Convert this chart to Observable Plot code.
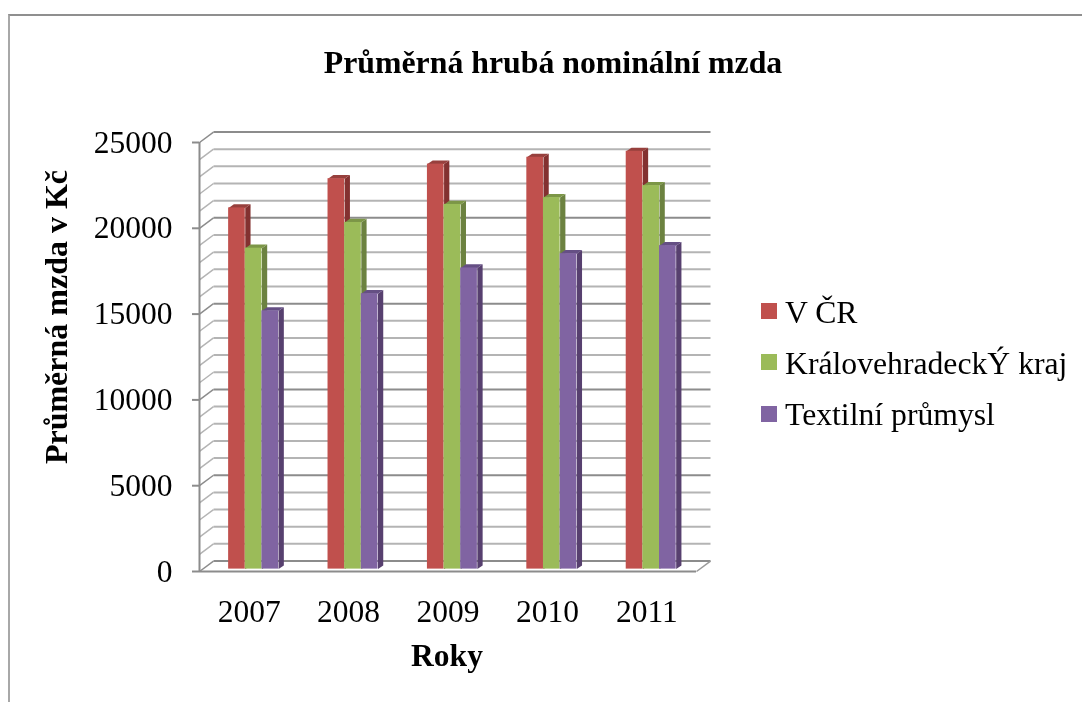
<!DOCTYPE html>
<html lang="cs">
<head>
<meta charset="utf-8">
<script src="https://cdn.jsdelivr.net/npm/d3@7"></script>
<script src="https://cdn.jsdelivr.net/npm/@observablehq/plot@0.6"></script>
<style>
html,body{margin:0;padding:0;background:#fff;}
body{width:1082px;height:702px;position:relative;overflow:hidden;font-family:"Liberation Serif",serif;color:#000;}
#frame{position:absolute;left:8px;top:14px;right:-4px;bottom:-4px;border-top:2px solid #8f8f8f;border-left:2px solid #a8a8a8;}
#chart{position:absolute;left:0;top:0;filter:blur(0.35px);}
#title{position:absolute;left:0;width:1106px;top:44px;text-align:center;font-weight:bold;font-size:31.8px;line-height:38px;white-space:nowrap;filter:blur(0.3px);}
.lg{position:absolute;left:785px;font-size:31.7px;line-height:36px;white-space:nowrap;filter:blur(0.3px);}
.sw{position:absolute;left:761px;width:16px;height:16px;}
</style>
</head>
<body>
<div id="frame"></div>
<div id="chart"></div>
<div id="title">Průměrná hrubá nominální mzda</div>
<div id="legend"></div>
<script>
const years = [2007, 2008, 2009, 2010, 2011];
const seriesNames = ["V ČR", "KrálovehradeckÝ kraj", "Textilní průmysl"];
const vCR = [21050, 22750, 23600, 24000, 24350];
const kraj = [18700, 20200, 21250, 21650, 22350];
const textil = [15050, 16050, 17550, 18380, 18850];
const frontColors = ["#C0504D", "#9BBB59", "#8064A2"];
const sideColors = ["#833130", "#6C8240", "#57406F"];
const topColors = ["#97403D", "#7C9647", "#654F84"];
const majorTicks = [0, 5000, 10000, 15000, 20000, 25000];
const gridValues = d3.range(0, 25001, 1000);

const xMin = 2006.5, xMax = 2011.5;
const wallX = 0.141, wallY = 610;
const barOffset = -0.207, barW = 0.1675, sideX = 0.053, sideY = 210;

const values = [vCR, kraj, textil];
const fronts = [], faces = [];
values.forEach((vals, s) => {
  vals.forEach((v, i) => {
    const x1 = years[i] + barOffset + s * barW, x2 = x1 + barW;
    fronts.push({x1, x2, v, fill: frontColors[s]});
    const k = s + "-" + i;
    [[x2,0],[x2+sideX,sideY],[x2+sideX,v+sideY],[x2,v]].forEach(p => faces.push({key:"s"+k,x:p[0],y:p[1],fill:sideColors[s]}));
    [[x1,v],[x2,v],[x2+sideX,v+sideY],[x1+sideX,v+sideY]].forEach(p => faces.push({key:"t"+k,x:p[0],y:p[1],fill:topColors[s]}));
  });
});
const isMajor = v => v % 5000 === 0;
const serif = "Liberation Serif";

const plot = Plot.plot({
  width: 1082, height: 702,
  marginLeft: 199, marginRight: 386, marginTop: 142, marginBottom: 131,
  style: {fontFamily: serif, background: "transparent", color: "#000", overflow: "visible"},
  x: {domain: [xMin, xMax]},
  y: {domain: [0, 25000]},
  marks: [
    Plot.link(gridValues.filter(v => !isMajor(v)), {x1: () => xMin + wallX, x2: () => xMax + wallX, y1: v => v + wallY, y2: v => v + wallY, stroke: "#b4b4b4", strokeWidth: 2}),
    Plot.link(gridValues.filter(v => !isMajor(v)), {x1: () => xMin, x2: () => xMin + wallX, y1: v => v, y2: v => v + wallY, stroke: "#b4b4b4", strokeWidth: 1.5}),
    Plot.link(majorTicks, {x1: () => xMin + wallX, x2: () => xMax + wallX, y1: v => v + wallY, y2: v => v + wallY, stroke: "#8c8c8c", strokeWidth: 2}),
    Plot.link(majorTicks, {x1: () => xMin, x2: () => xMin + wallX, y1: v => v, y2: v => v + wallY, stroke: "#8c8c8c", strokeWidth: 1.5}),
    Plot.link([0], {x1: () => xMax, x2: () => xMax + wallX, y1: () => 0, y2: () => wallY, stroke: "#9a9a9a", strokeWidth: 1.5}),
    Plot.line(faces, {x: "x", y: "y", z: "key", fill: "fill", stroke: "none", dy: -2.4}),
    Plot.rectY(fronts, {x1: "x1", x2: "x2", y1: () => 0, y2: "v", fill: "fill", dy: -2.4, inset: 0}),
    Plot.ruleY([0], {stroke: "#8c8c8c", strokeWidth: 2}),
    Plot.ruleX([xMin], {stroke: "#8c8c8c", strokeWidth: 2}),
    Plot.axisY({ticks: majorTicks, tickFormat: d => String(d), tickSize: 7, tickPadding: 20, fontSize: 31.5, stroke: "#8c8c8c", strokeWidth: 2,
      label: "Průměrná mzda v Kč", labelAnchor: "center", labelArrow: "none", labelOffset: 155}),
    Plot.axisX({ticks: years, tickFormat: d => String(d), tickSize: 0, tickPadding: 28, fontSize: 31.5,
      label: "Roky", labelAnchor: "center", labelArrow: "none", labelOffset: 94})
  ]
});
document.getElementById("chart").append(plot);
// bold axis titles, placed as in the reference
plot.querySelectorAll('[aria-label="y-axis label"] text').forEach(t => {
  t.setAttribute("font-weight", "bold"); t.setAttribute("font-size", 32); t.setAttribute("dx", 40);
});
plot.querySelectorAll('[aria-label="x-axis label"] text').forEach(t => {
  t.setAttribute("font-weight", "bold"); t.setAttribute("font-size", 31.5); t.setAttribute("dx", -1);
});

const legendEl = document.getElementById("legend");
const swTop = [303, 354, 406], txtTop = [295, 346, 397];
seriesNames.forEach((name, i) => {
  const s = document.createElement("div");
  s.className = "sw"; s.style.top = swTop[i] + "px"; s.style.background = frontColors[i];
  const t = document.createElement("div");
  t.className = "lg"; t.style.top = txtTop[i] + "px"; t.textContent = name;
  legendEl.append(s, t);
});
</script>
</body>
</html>
